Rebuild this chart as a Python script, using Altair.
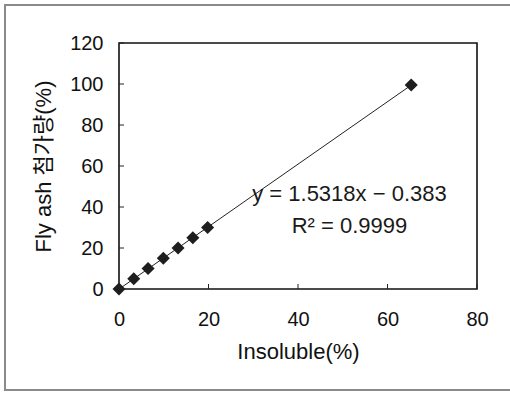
import altair as alt
import pandas as pd

# data
insoluble = [0.0, 3.3, 6.5, 9.9, 13.2, 16.5, 19.8, 65.3]
fly_ash = [0, 5, 10, 15, 20, 25, 30, 99.5]
x_ticks = [0, 20, 40, 60, 80]
y_ticks = [0, 20, 40, 60, 80, 100, 120]
eq_text = ["y = 1.5318x \u2212 0.383", "R\u00b2 = 0.9999"]
eq_x = [51.5, 51.5]
eq_y = [46.5, 30.5]

FONT = "Liberation Sans, Arial, 'Noto Sans CJK KR'"
W, H = 358, 246

df = pd.DataFrame({"ins": insoluble, "fly": fly_ash})
xt = pd.DataFrame({"ins": x_ticks})
yt = pd.DataFrame({"fly": y_ticks})
eq = pd.DataFrame({"label": eq_text, "ins": eq_x, "fly": eq_y})

xs = alt.Scale(domain=[0, 80], nice=False)
ys = alt.Scale(domain=[0, 120], nice=False)
xaxis = alt.Axis(values=x_ticks, ticks=False, domain=False, grid=False, labelFlush=False,
                 labelPadding=20, titlePadding=12, format="d")
yaxis = alt.Axis(values=y_ticks, ticks=False, domain=False, grid=False, labelFlush=False,
                 labelPadding=16, titlePadding=14, format="d")
XT = "Insoluble(%)"
YT = "Fly ash 첨가량(%)"


def X():
    return alt.X("ins:Q", scale=xs, title=XT, axis=xaxis)


def Y():
    return alt.Y("fly:Q", scale=ys, title=YT, axis=yaxis)


base = alt.Chart(df)

points = base.mark_point(shape="diamond", filled=True, size=170, color="#1e1e1e", opacity=1).encode(
    x=X(), y=Y(),
)

line = base.transform_regression("ins", "fly").mark_line(color="#222222", strokeWidth=1).encode(
    x=X(), y=Y(),
)

xtick = alt.Chart(xt).mark_rule(color="#222222", strokeWidth=1).encode(
    x=X(), y=alt.value(H), y2=alt.value(H - 5),
)
ytick = alt.Chart(yt).mark_rule(color="#222222", strokeWidth=1).encode(
    y=Y(), x=alt.value(0), x2=alt.value(5),
)

eqtext = alt.Chart(eq).mark_text(font=FONT, fontSize=22, color="#1a1a1a", align="center", baseline="middle").encode(
    x=X(), y=Y(), text="label:N",
)

frame = alt.Chart(xt).mark_rect(fill=None, stroke="#8a8a8a", strokeWidth=1.5).encode(
    x=alt.value(-114), x2=alt.value(420), y=alt.value(-38), y2=alt.value(347),
)

chart = alt.layer(frame, line, points, xtick, ytick, eqtext).properties(
    width=W, height=H,
    autosize=alt.AutoSizeParams(type="none"),
    padding={"left": 119, "top": 43, "right": 33, "bottom": 104},
    background="white",
).configure_view(
    stroke="#111111", strokeWidth=1.6,
).configure_axis(
    labelFont=FONT, titleFont=FONT, labelFontSize=20, titleFontSize=22,
    labelColor="#111111", titleColor="#111111", titleFontWeight="normal",
)

chart.save("out.html", embed_options={"renderer": "svg", "actions": False})
